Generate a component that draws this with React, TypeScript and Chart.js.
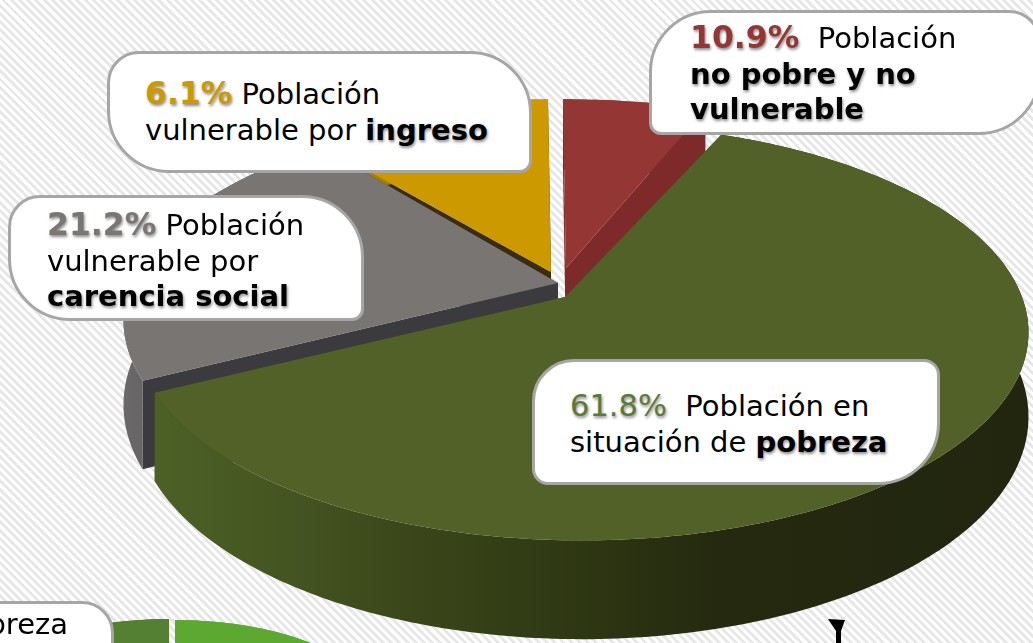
import React, { useEffect, useRef } from "react";
import { Chart, registerables } from "chart.js";

Chart.register(...registerables);

// ---- data ----
const sliceLabels = [
  "Población en situación de pobreza",
  "Población vulnerable por carencia social",
  "Slice 3",
  "Slice 4",
];
const sliceValues = [61.8, 21.2, 10.9, 6.1];
const lowerLabels = ["Pobreza moderada", "Pobreza extrema"];
const lowerValues = [76, 24];

// ---- styles ----
const topColors = ["#526127", "#797573", "#cc9a00", "#943634"];
const cutColors = ["#3d4a1c", "#3b3a3e", "#3a2c0c", "#7f2a2a"];
const wallStops: [number, string][][] = [
  [[0.14, "#4d6226"], [0.3, "#435221"], [0.4, "#3a4619"], [0.55, "#2f3813"], [0.7, "#24290f"], [1, "#22260f"]],
  [[0.1, "#6e6c6c"], [0.2, "#5a5959"]],
  [[0, "#a87f00"], [1, "#a87f00"]],
  [[0, "#7f2a2a"], [1, "#7f2a2a"]],
];
const sliceGeom = [
  { ax: 565, ay: 297, cx: 582, cy: 297 },
  { ax: 558, ay: 283, cx: 570, cy: 285 },
  { ax: 551, ay: 272, cx: 551, cy: 272 },
  { ax: 566, ay: 268, cx: 566, cy: 272 },
];
const mainShape = { rx: 440, ry: 202, k: 0.17, depth: 82 };
const lowerColors = ["#5da831", "#538033"];
const lowerGeom = [
  { ax: 175, ay: 712, cx: 175, cy: 712 },
  { ax: 169, ay: 711, cx: 169, cy: 711 },
];
const lowerShape = { rx: 205, ry: 92, k: 0, depth: 20 };

const drawSlice = (
  ctx: CanvasRenderingContext2D,
  arc: any,
  g: { ax: number; ay: number; cx: number; cy: number },
  s: { rx: number; ry: number; k: number; depth: number },
  top: string,
  cut: string,
  stops: [number, string][]
) => {
  const { startAngle, endAngle } = arc.getProps(["startAngle", "endAngle"], true);
  const a0 = startAngle + Math.PI / 2;
  const a1 = endAngle + Math.PI / 2;
  const n = Math.max(2, Math.ceil(((a1 - a0) * 180) / Math.PI));
  const rim: { x: number; y: number; d: number }[] = [];
  for (let i = 0; i <= n; i++) {
    const t = a0 + ((a1 - a0) * i) / n;
    const u = Math.sin(t);
    const v = -Math.cos(t);
    const w = 1 - s.k * v;
    rim.push({ x: g.cx + (s.rx * u) / w, y: g.cy + (s.ry * v) / w, d: s.depth / w });
  }
  const poly = (pts: number[][], fill: string | CanvasGradient) => {
    ctx.beginPath();
    pts.forEach((p, i) => (i ? ctx.lineTo(p[0], p[1]) : ctx.moveTo(p[0], p[1])));
    ctx.closePath();
    ctx.fillStyle = fill;
    ctx.fill();
  };
  const first = rim[0];
  const last = rim[rim.length - 1];
  poly([[g.ax, g.ay], [first.x, first.y], [first.x, first.y + first.d], [g.ax, g.ay + s.depth]], cut);
  poly([[g.ax, g.ay], [last.x, last.y], [last.x, last.y + last.d], [g.ax, g.ay + s.depth]], cut);
  const grad = ctx.createLinearGradient(0, 0, 1033, 0);
  stops.forEach(([o, c]) => grad.addColorStop(o, c));
  poly(
    [...rim.map((p) => [p.x, p.y]), ...rim.slice().reverse().map((p) => [p.x, p.y + p.d])],
    grad
  );
  poly([[g.ax, g.ay], ...rim.map((p) => [p.x, p.y])], top);
};

const pie3d = {
  id: "pie3d",
  beforeDatasetsDraw(chart: any) {
    const ctx = chart.ctx as CanvasRenderingContext2D;
    const lower = chart.getDatasetMeta(1).data;
    lower.forEach((arc: any, i: number) =>
      drawSlice(ctx, arc, lowerGeom[i], lowerShape, lowerColors[i], lowerColors[i], [[0, lowerColors[i]], [1, lowerColors[i]]])
    );
    const main = chart.getDatasetMeta(0).data;
    [3, 2, 1, 0].forEach((i) =>
      drawSlice(ctx, main[i], sliceGeom[i], mainShape, topColors[i], cutColors[i], wallStops[i])
    );
    return false;
  },
};

const darkShadow = "1px 2px 3px rgba(0,0,0,0.45)";
const B = ({ children }: { children: React.ReactNode }) => (
  <b style={{ textShadow: darkShadow }}>{children}</b>
);
const Pct = ({ c, bold = true, children }: { c: string; bold?: boolean; children: React.ReactNode }) => (
  <span style={{ color: c, fontWeight: bold ? 700 : 400, fontSize: bold ? 31.5 : 30.5, textShadow: darkShadow }}>{children}</span>
);

const boxBase: React.CSSProperties = {
  position: "absolute",
  boxSizing: "border-box",
  background: "#fff",
  border: "3px solid #a8a5a5",
  color: "#000",
  fontFamily: "'DejaVu Sans', Verdana, sans-serif",
  fontSize: 29,
  lineHeight: "35.5px",
  whiteSpace: "nowrap",
};

export default function App() {
  const ref = useRef<HTMLCanvasElement>(null);
  useEffect(() => {
    const chart = new Chart(ref.current as HTMLCanvasElement, {
      type: "pie",
      data: {
        labels: sliceLabels,
        datasets: [
          { data: sliceValues, rotation: 21.5, backgroundColor: topColors },
          { data: lowerValues, rotation: 0, backgroundColor: lowerColors },
        ],
      },
      options: {
        responsive: false,
        animation: false,
        plugins: { legend: { display: false }, tooltip: { enabled: false } },
      },
      plugins: [pie3d],
    } as any);
    return () => chart.destroy();
  }, []);

  return (
    <div
      style={{
        position: "fixed",
        left: 0,
        top: 0,
        width: 1033,
        height: 643,
        overflow: "hidden",
        background: "repeating-linear-gradient(45deg, #ffffff 0 3px, #e7e7e7 3px 5.8px)",
      }}
    >
      <canvas ref={ref} width={1033} height={643} style={{ position: "absolute", left: 0, top: 0 }} />

      <div style={{ ...boxBase, left: 107, top: 51, width: 425, height: 122, borderRadius: "32px 62px 12px 62px", padding: "22px 0 0 35px" }}>
        <Pct c="#cc9a00">6.1%</Pct> Población
        <br />
        vulnerable por <B>ingreso</B>
      </div>

      <div style={{ ...boxBase, left: 8, top: 195, width: 356, height: 126, borderRadius: "32px 62px 12px 62px", padding: "9px 0 0 36px" }}>
        <Pct c="#7a7674">21.2%</Pct> Población
        <br />
        vulnerable por
        <br />
        <B>carencia social</B>
      </div>

      <div style={{ ...boxBase, left: 649, top: 10, width: 392, height: 125, borderRadius: "62px 32px 62px 12px", padding: "7px 0 0 38px" }}>
        <Pct c="#943634">10.9%</Pct>&nbsp; Población
        <br />
        <B>no pobre y no</B>
        <br />
        <B>vulnerable</B>
      </div>

      <div style={{ ...boxBase, left: 532, top: 359, width: 408, height: 126, borderRadius: "42px 16px 62px 16px", padding: "26px 0 0 35px" }}>
        <Pct c="#5b7a38" bold={false}>61.8%</Pct>&nbsp; Población en
        <br />
        situación de <B>pobreza</B>
      </div>

      <div style={{ ...boxBase, left: -200, top: 601, width: 314, height: 70, borderRadius: "0 32px 0 0", padding: "3px 43px 0 0", textAlign: "right" }}>
        pobreza
      </div>

      <svg width={40} height={30} style={{ position: "absolute", left: 820, top: 613 }}>
        <polygon points="8,6 25,7 21,18 21,30 16,30 16,18" fill="#000" />
      </svg>
    </div>
  );
}
